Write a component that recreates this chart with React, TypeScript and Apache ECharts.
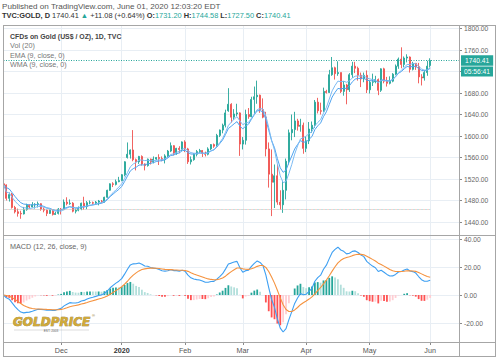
import React, { useEffect, useRef } from 'react';
import * as echarts from 'echarts';

// [day, open, high, low, close]
type Row = [number, number, number, number, number];

const nov2019: Row[] = [
  [4, 1511, 1515, 1503, 1509], [5, 1509, 1510, 1480, 1484], [6, 1484, 1495, 1478, 1491],
  [7, 1491, 1494, 1465, 1467], [8, 1467, 1470, 1456, 1459], [11, 1459, 1465, 1450, 1456],
  [12, 1456, 1461, 1446, 1455], [13, 1455, 1468, 1454, 1463], [14, 1463, 1474, 1461, 1471],
  [15, 1471, 1473, 1465, 1468], [18, 1468, 1477, 1467, 1472], [19, 1472, 1475, 1465, 1473],
  [20, 1473, 1478, 1467, 1474], [21, 1474, 1475, 1461, 1464], [22, 1464, 1467, 1458, 1462],
  [25, 1462, 1463, 1451, 1456], [26, 1456, 1463, 1455, 1462], [27, 1462, 1463, 1452, 1454],
  [28, 1454, 1459, 1453, 1456], [29, 1456, 1466, 1454, 1464],
];
const dec2019: Row[] = [
  [2, 1464, 1466, 1454, 1463], [3, 1463, 1482, 1462, 1477], [4, 1477, 1486, 1471, 1474],
  [5, 1474, 1482, 1472, 1475], [6, 1475, 1477, 1458, 1460], [9, 1460, 1465, 1456, 1462],
  [10, 1462, 1469, 1460, 1465], [11, 1465, 1476, 1462, 1475], [12, 1475, 1487, 1463, 1469],
  [13, 1469, 1479, 1464, 1476], [16, 1476, 1480, 1473, 1476], [17, 1476, 1478, 1472, 1475],
  [18, 1475, 1479, 1472, 1477], [19, 1477, 1481, 1471, 1479], [20, 1479, 1481, 1475, 1478],
  [23, 1478, 1487, 1476, 1486], [24, 1486, 1500, 1485, 1499], [26, 1499, 1512, 1498, 1511],
  [27, 1511, 1514, 1505, 1510], [30, 1510, 1519, 1508, 1515], [31, 1515, 1524, 1514, 1517],
];
const jan2020: Row[] = [
  [2, 1517, 1529, 1516, 1528], [3, 1528, 1553, 1525, 1552], [6, 1560, 1588, 1558, 1566],
  [7, 1566, 1575, 1558, 1574], [8, 1574, 1611, 1553, 1556], [9, 1556, 1558, 1536, 1552],
  [10, 1552, 1563, 1548, 1562], [13, 1562, 1564, 1545, 1548], [14, 1548, 1549, 1536, 1545],
  [15, 1545, 1558, 1543, 1557], [16, 1557, 1558, 1547, 1552], [17, 1552, 1562, 1549, 1557],
  [20, 1557, 1561, 1555, 1560], [21, 1560, 1566, 1546, 1558], [22, 1558, 1562, 1553, 1556],
  [23, 1556, 1566, 1549, 1563], [24, 1563, 1574, 1560, 1572], [27, 1572, 1588, 1570, 1582],
  [28, 1582, 1583, 1564, 1568], [29, 1568, 1578, 1565, 1577], [30, 1577, 1581, 1568, 1575],
  [31, 1575, 1590, 1572, 1589],
];
const feb2020: Row[] = [
  [3, 1589, 1592, 1570, 1576], [4, 1576, 1578, 1548, 1552], [5, 1552, 1562, 1547, 1556],
  [6, 1556, 1568, 1554, 1566], [7, 1566, 1574, 1562, 1571], [10, 1571, 1576, 1568, 1573],
  [11, 1573, 1574, 1561, 1568], [12, 1568, 1571, 1562, 1566], [13, 1566, 1579, 1564, 1576],
  [14, 1576, 1585, 1574, 1584], [17, 1584, 1586, 1578, 1581], [18, 1581, 1604, 1580, 1601],
  [19, 1601, 1612, 1598, 1611], [20, 1611, 1623, 1605, 1620], [21, 1620, 1649, 1616, 1643],
  [24, 1647, 1689, 1645, 1659], [25, 1659, 1661, 1625, 1635], [26, 1635, 1650, 1630, 1641],
  [27, 1641, 1660, 1637, 1643], [28, 1643, 1644, 1563, 1585],
];
const mar2020: Row[] = [
  [2, 1585, 1598, 1575, 1592], [3, 1592, 1649, 1584, 1640], [4, 1640, 1652, 1632, 1636],
  [5, 1636, 1673, 1635, 1668], [6, 1668, 1692, 1641, 1673], [9, 1673, 1703, 1660, 1676],
  [10, 1676, 1677, 1643, 1649], [11, 1649, 1670, 1633, 1635], [12, 1635, 1645, 1562, 1576],
  [13, 1576, 1588, 1504, 1529], [16, 1529, 1575, 1451, 1514], [17, 1514, 1547, 1466, 1526],
  [18, 1526, 1547, 1472, 1477], [19, 1477, 1499, 1463, 1472], [20, 1472, 1517, 1457, 1499],
  [23, 1499, 1558, 1482, 1553], [24, 1553, 1612, 1547, 1606], [25, 1606, 1640, 1592, 1612],
  [26, 1612, 1645, 1598, 1628], [27, 1628, 1632, 1610, 1618], [30, 1618, 1632, 1608, 1620],
  [31, 1620, 1625, 1567, 1577],
];
const apr2020: Row[] = [
  [1, 1577, 1600, 1570, 1591], [2, 1591, 1626, 1585, 1613], [3, 1613, 1627, 1606, 1620],
  [6, 1620, 1667, 1615, 1663], [7, 1663, 1671, 1642, 1647], [8, 1647, 1662, 1640, 1646],
  [9, 1646, 1690, 1645, 1683], [10, 1683, 1686, 1679, 1681], [13, 1681, 1723, 1680, 1714],
  [14, 1714, 1747, 1712, 1727], [15, 1727, 1729, 1705, 1716], [16, 1716, 1739, 1712, 1718],
  [17, 1718, 1718, 1680, 1683], [20, 1683, 1702, 1675, 1695], [21, 1695, 1697, 1659, 1686],
  [22, 1686, 1717, 1682, 1714], [23, 1714, 1738, 1708, 1730], [24, 1730, 1738, 1717, 1726],
  [27, 1726, 1729, 1703, 1713], [28, 1713, 1718, 1691, 1706], [29, 1706, 1718, 1700, 1713],
  [30, 1713, 1722, 1680, 1686],
];
const may2020: Row[] = [
  [1, 1686, 1703, 1679, 1700], [4, 1700, 1716, 1693, 1701], [5, 1701, 1712, 1698, 1705],
  [6, 1705, 1707, 1676, 1685], [7, 1685, 1726, 1682, 1725], [8, 1725, 1727, 1698, 1702],
  [11, 1702, 1710, 1692, 1698], [12, 1698, 1711, 1696, 1702], [13, 1702, 1717, 1700, 1715],
  [14, 1715, 1733, 1713, 1730], [15, 1730, 1746, 1725, 1743], [18, 1743, 1765, 1726, 1733],
  [19, 1733, 1748, 1728, 1745], [20, 1745, 1752, 1737, 1747], [21, 1747, 1748, 1718, 1724],
  [22, 1724, 1738, 1722, 1735], [25, 1735, 1736, 1723, 1729], [26, 1729, 1736, 1698, 1710],
  [27, 1710, 1715, 1694, 1708], [28, 1708, 1723, 1703, 1718], [29, 1718, 1740, 1712, 1730],
];
const jun2020: Row[] = [[1, 1731.2, 1744.58, 1727.5, 1740.41]];

const monthBlocks: { y: number; m: number; rows: Row[] }[] = [
  { y: 2019, m: 11, rows: nov2019 }, { y: 2019, m: 12, rows: dec2019 },
  { y: 2020, m: 1, rows: jan2020 }, { y: 2020, m: 2, rows: feb2020 },
  { y: 2020, m: 3, rows: mar2020 }, { y: 2020, m: 4, rows: apr2020 },
  { y: 2020, m: 5, rows: may2020 }, { y: 2020, m: 6, rows: jun2020 },
];
const monthNames = ['', 'Jan', 'Feb', 'Mar', 'Apr', 'May', 'Jun', 'Jul', 'Aug', 'Sep', 'Oct', 'Nov', 'Dec'];
const rightPadBars = 10;
const volLineLevel = 1464;
const countdownText = '05:56:41';
const hiddenPriceLabels = [1720]; // covered by the countdown box in the reference

const pad2 = (n: number) => (n < 10 ? '0' + n : '' + n);
const dates: string[] = [];
const rows: Row[] = [];
monthBlocks.forEach((b) => b.rows.forEach((r) => { dates.push(`${b.y}-${pad2(b.m)}-${pad2(r[0])}`); rows.push(r); }));
const categories = [...dates];
for (let i = 0; i < rightPadBars; i++) categories.push('pad' + i);

const monthStart = new Map<number, string>();
dates.forEach((d, i) => {
  if (i > 0 && d.slice(0, 7) !== dates[i - 1].slice(0, 7)) {
    const m = parseInt(d.slice(5, 7), 10);
    monthStart.set(i, m === 1 ? '{b|' + d.slice(0, 4) + '}' : monthNames[m]);
  }
});
const isStart = (i: number) => monthStart.has(i);

const closes = rows.map((r) => r[4]);
const candleData = rows.map((r) => [r[1], r[4], r[3], r[2]]);

function ema(src: number[], n: number) {
  const k = 2 / (n + 1);
  const out: number[] = [];
  src.forEach((v, i) => out.push(i === 0 ? v : v * k + out[i - 1] * (1 - k)));
  return out;
}
function wma(src: number[], n: number) {
  return src.map((_, i) => {
    let s = 0, w = 0;
    for (let j = 0; j < n && i - j >= 0; j++) { s += (n - j) * src[i - j]; w += n - j; }
    return s / w;
  });
}
const ema9 = ema(closes, 9);
const wma9 = wma(closes, 9);
const e12 = ema(closes, 12);
const e26 = ema(closes, 26);
const macd = e12.map((v, i) => v - e26[i]);
const signal = ema(macd, 9);
const hist = macd.map((v, i) => v - signal[i]);
const histItems = hist.map((h, i) => {
  const prev = i === 0 ? 0 : hist[i - 1];
  const color = h >= 0 ? (h > prev ? '#26a69a' : '#b2dfdb') : (h < prev ? '#ff5252' : '#ffcdd2');
  return { value: h, itemStyle: { color } };
});
const last = rows[rows.length - 1];

const FONT = '"Liberation Sans", Arial, sans-serif';
const gridColor = '#e8eef4';
const frame = '#a6a6a6';
const teal = '#26a69a';

export default function App() {
  const ref = useRef<HTMLDivElement>(null);
  useEffect(() => {
    const chart = echarts.init(ref.current!, null, { renderer: 'svg' });
    const hline = (y: number, x1 = 3, x2 = 496) => ({ type: 'line', z: 50, shape: { x1, y1: y, x2, y2: y }, style: { stroke: frame, lineWidth: 1 } });
    const vline = (x: number, y1 = 25, y2 = 357) => ({ type: 'line', z: 50, shape: { x1: x, y1, x2: x, y2 }, style: { stroke: frame, lineWidth: 1 } });
    const txt = (x: number, y: number, text: string, size: number, fill: string, weight: any = 'normal', extra: any = {}) => ({
      type: 'text', z: 60, x, y, style: { text, fontSize: size, fill, fontWeight: weight, fontFamily: FONT, verticalAlign: 'middle', ...extra },
    });
    const option: any = {
      animation: false,
      backgroundColor: '#ffffff',
      grid: [
        { left: 3.5, right: 41, top: 25, height: 317 },
        { left: 3.5, right: 41, top: 28.5, height: 193.5 },
        { left: 3.5, right: 41, top: 239, height: 84 },
      ],
      xAxis: [
        {
          type: 'category', gridIndex: 0, data: categories, boundaryGap: false,
          axisLine: { show: false },
          axisTick: { show: true, interval: isStart, length: 3, lineStyle: { color: '#8a8a8a' } },
          axisLabel: {
            interval: isStart, formatter: (_v: string, i: number) => monthStart.get(i) || '',
            margin: 5, fontSize: 7.2, color: '#555', fontFamily: FONT,
            rich: { b: { fontWeight: 'bold', fontSize: 7.2, color: '#333', fontFamily: FONT } },
          },
          splitLine: { show: true, interval: isStart, lineStyle: { color: gridColor, width: 1 } },
        },
        { type: 'category', gridIndex: 1, data: categories, boundaryGap: false, show: false },
        { type: 'category', gridIndex: 2, data: categories, boundaryGap: false, show: false },
      ],
      yAxis: [
        { type: 'value', gridIndex: 0, min: 0, max: 1, show: false },
        {
          type: 'value', gridIndex: 1, position: 'right', min: 1440, max: 1800, interval: 40,
          axisLine: { show: false },
          axisTick: { show: true, length: 3, lineStyle: { color: '#8a8a8a' } },
          axisLabel: {
            formatter: (v: number) => (hiddenPriceLabels.includes(v) ? '' : v.toFixed(2)),
            fontSize: 6.7, color: '#666', margin: 5, fontFamily: FONT,
          },
          splitLine: { lineStyle: { color: gridColor } },
        },
        {
          type: 'value', gridIndex: 2, position: 'right', min: -20, max: 40, interval: 20,
          axisLine: { show: false },
          axisTick: { show: true, length: 3, lineStyle: { color: '#8a8a8a' } },
          axisLabel: { formatter: (v: number) => v.toFixed(2), fontSize: 6.7, color: '#666', margin: 5, fontFamily: FONT },
          splitLine: { lineStyle: { color: gridColor } },
        },
      ],
      series: [
        {
          type: 'candlestick', xAxisIndex: 1, yAxisIndex: 1, data: candleData, barWidth: 1.5, clip: false,
          itemStyle: { color: teal, color0: '#ef5350', borderColor: teal, borderColor0: '#ef5350', borderWidth: 0.9 },
          markLine: {
            silent: true, symbol: 'none', animation: false,
            data: [
              {
                yAxis: last[4],
                lineStyle: { color: teal, type: [1, 1.5], width: 1 },
                label: {
                  show: true, position: 'end', distance: 2, formatter: last[4].toFixed(2),
                  backgroundColor: teal, color: '#fff', padding: [2, 4, 1.5, 4], fontSize: 6.7, fontFamily: FONT,
                },
              },
              [
                { coord: [dates[0], volLineLevel], lineStyle: { color: '#f4a0a0', type: [1, 3], width: 1 }, label: { show: false } },
                { coord: [dates[dates.length - 1], volLineLevel] },
              ],
              [
                { coord: [dates[0], volLineLevel], lineStyle: { color: '#80cbc4', type: [1, 3], dashOffset: 2, width: 1 }, label: { show: false } },
                { coord: [dates[dates.length - 1], volLineLevel] },
              ],
            ],
          },
        },
        { type: 'line', name: 'EMA', xAxisIndex: 1, yAxisIndex: 1, data: ema9, showSymbol: false, symbol: 'none', lineStyle: { width: 1, color: '#4ea3ef' }, z: 3 },
        { type: 'line', name: 'WMA', xAxisIndex: 1, yAxisIndex: 1, data: wma9, showSymbol: false, symbol: 'none', lineStyle: { width: 1, color: '#7bbaf3' }, z: 3 },
        { type: 'bar', xAxisIndex: 2, yAxisIndex: 2, data: histItems, barWidth: 1.8, clip: false },
        { type: 'line', xAxisIndex: 2, yAxisIndex: 2, data: macd, showSymbol: false, symbol: 'none', clip: false, lineStyle: { width: 1.1, color: '#3d9ff2' }, z: 4 },
        { type: 'line', xAxisIndex: 2, yAxisIndex: 2, data: signal, showSymbol: false, symbol: 'none', clip: false, lineStyle: { width: 1.1, color: '#f5923e' }, z: 4 },
      ],
      graphic: [
        hline(25.5), hline(235.5), hline(342.5), hline(356.5),
        vline(3.5), vline(459.5), vline(495.5),
        txt(2, 6, 'Published on TradingView.com, June 01, 2020 12:03:20 EDT', 8.1, '#555'),
        {
          type: 'text', z: 60, x: 2, y: 15,
          style: {
            text: '{b|TVC:GOLD, D}{n| 1740.41 }{t|▲}{n| +11.08 (+0.64%) }{b|O:}{t|1731.20 }{b|H:}{t|1744.58 }{b|L:}{t|1727.50 }{b|C:}{t|1740.41}',
            verticalAlign: 'middle', fontFamily: FONT, fontSize: 7.4,
            rich: {
              b: { fontWeight: 'bold', fill: '#333', fontSize: 7.4, fontFamily: FONT },
              n: { fill: '#333', fontSize: 7.4, fontFamily: FONT },
              t: { fill: teal, fontSize: 7.4, fontFamily: FONT },
            },
          },
        },
        txt(10, 36, 'CFDs on Gold (US$ / OZ), 1D, TVC', 6.9, '#444', 'bold'),
        txt(10, 45.5, 'Vol (20)', 7.2, '#777'),
        txt(10, 55, 'EMA (9, close, 0)', 7.2, '#777'),
        txt(10, 64.5, 'WMA (9, close, 0)', 7.2, '#777'),
        txt(10, 246, 'MACD (12, 26, close, 9)', 7.2, '#666'),
        { type: 'rect', z: 60, shape: { x: 461, y: 66.5, width: 32, height: 10 }, style: { fill: teal } },
        txt(477, 71.7, countdownText, 6.7, '#fff', 'normal', { align: 'center' }),
        {
          type: 'text', z: 60, x: 13, y: 322,
          style: {
            text: 'GOLDPRICE', fontSize: 12, fontWeight: 900, fontStyle: 'italic', fontFamily: '"DejaVu Sans", sans-serif',
            fill: '#cfa93a', stroke: '#8a6a14', lineWidth: 0.6, verticalAlign: 'middle',
          },
        },
        txt(92, 315, '®', 4, '#8a6a14'),
        { type: 'line', z: 60, shape: { x1: 14, y1: 330, x2: 89, y2: 330 }, style: { stroke: '#b8b8b8', lineWidth: 0.5 } },
        txt(51, 331, 'EST. 2003', 3.2, '#666', 'normal', { align: 'center' }),
      ],
    };
    chart.setOption(option);
    return () => chart.dispose();
  }, []);
  return <div ref={ref} style={{ width: 500, height: 362, position: 'absolute', left: 0, top: 0 }} />;
}
